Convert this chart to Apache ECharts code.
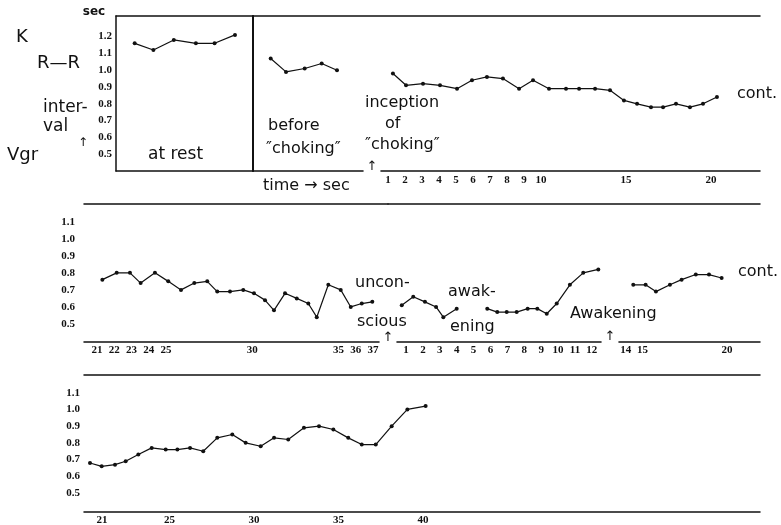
<!DOCTYPE html>
<html>
<head>
<meta charset="utf-8">
<script src="https://cdn.jsdelivr.net/npm/echarts@6/dist/echarts.min.js"></script>
<style>
html, body { margin: 0; padding: 0; background: #fff; }
#chart { width: 781px; height: 525px; }
</style>
</head>
<body>
<div id="chart"></div>
<script>
// R–R interval (sec) of each beat, plotted at the beat's time (sec)

// strip 1: at rest, before "choking", and from the inception of "choking"
const restTime = [1.1, 2.2, 3.4, 4.7, 5.8, 7.0];
const restRR = [1.16, 1.12, 1.18, 1.16, 1.16, 1.21];
const beforeTime = [-5.9, -5.0, -3.9, -2.9, -2.0];
const beforeRR = [1.07, 0.99, 1.01, 1.04, 1.00];
const chokeTime = [1.29, 2.06, 3.06, 4.06, 5.06, 5.94, 6.82, 7.76, 8.71, 9.53, 10.47, 11.47,
  12.24, 13.18, 14.06, 14.88, 15.65, 16.47, 17.18, 17.94, 18.76, 19.53, 20.35];
const chokeRR = [0.98, 0.91, 0.92, 0.91, 0.89, 0.94, 0.96, 0.95, 0.89, 0.94, 0.89, 0.89,
  0.89, 0.89, 0.88, 0.82, 0.80, 0.78, 0.78, 0.80, 0.78, 0.80, 0.84];

// strip 2: seconds 21–37, then unconscious / awakening
const contTime = [21.31, 22.14, 22.91, 23.53, 24.36, 25.13, 25.87, 26.64, 27.39, 27.97, 28.71, 29.48,
  30.10, 30.74, 31.26, 31.90, 32.58, 33.25, 33.74, 34.41, 35.13, 35.71, 36.35, 36.96];
const contRR = [0.76, 0.80, 0.80, 0.74, 0.80, 0.75, 0.70, 0.74, 0.75, 0.69, 0.69, 0.70,
  0.68, 0.64, 0.58, 0.68, 0.65, 0.62, 0.54, 0.73, 0.70, 0.60, 0.62, 0.63];
const unconTime = [0.75, 1.43, 2.12, 2.78, 3.21, 4.00];
const unconRR = [0.61, 0.66, 0.63, 0.60, 0.54, 0.59];
const wakingTime = [5.81, 6.40, 6.96, 7.55, 8.20, 8.77, 9.33, 9.92, 10.70, 11.49, 12.38];
const wakingRR = [0.59, 0.57, 0.57, 0.57, 0.59, 0.59, 0.56, 0.62, 0.73, 0.80, 0.82];
const awakeTime = [14.45, 15.18, 15.79, 16.62, 17.31, 18.15, 18.93, 19.68];
const awakeRR = [0.73, 0.73, 0.69, 0.73, 0.76, 0.79, 0.79, 0.77];

// strip 3: seconds 21–40 after awakening
const lateTime = [20.29, 20.98, 21.77, 22.40, 23.15, 23.94, 24.77, 25.46, 26.21, 26.99, 27.82, 28.71,
  29.50, 30.39, 31.18, 32.02, 32.95, 33.84, 34.69, 35.57, 36.37, 37.20, 38.14, 39.07, 40.15];
const lateRR = [0.68, 0.66, 0.67, 0.69, 0.73, 0.77, 0.76, 0.76, 0.77, 0.75, 0.83, 0.85,
  0.80, 0.78, 0.83, 0.82, 0.89, 0.90, 0.88, 0.83, 0.79, 0.79, 0.90, 1.00, 1.02];

// tick labels
const rrTicksTop = [0.5, 0.6, 0.7, 0.8, 0.9, 1.0, 1.1, 1.2];
const rrTicks = [0.5, 0.6, 0.7, 0.8, 0.9, 1.0, 1.1];
const secTicks1 = [1, 2, 3, 4, 5, 6, 7, 8, 9, 10, 15, 20];
const secTicks2a = [21, 22, 23, 24, 25, 30, 35, 36, 37];
const secTicks2b = [1, 2, 3, 4, 5, 6, 7, 8, 9, 10, 11, 12, 14, 15, 20];
const secTicks3 = [21, 25, 30, 35, 40];

const INK = '#111';
const tickFont = { fontFamily: 'Liberation Serif', fontWeight: 'bold', fontSize: 11, color: INK };

function lineSeries(times, values, xi, yi) {
  return {
    type: 'line', xAxisIndex: xi, yAxisIndex: yi,
    data: times.map((t, i) => [t, values[i]]),
    symbol: 'circle', symbolSize: 4, showSymbol: true,
    lineStyle: { color: INK, width: 1.2 }, itemStyle: { color: INK },
    silent: true, animation: false
  };
}

function rule(width) {
  return { show: true, onZero: false, lineStyle: { color: INK, width: width || 1.5 } };
}
function timeAxis(grid, min, max, ticks, margin) {
  return {
    type: 'value', gridIndex: grid, position: 'bottom', min: min, max: max,
    axisLine: rule(),
    axisTick: { show: false }, splitLine: { show: false },
    axisLabel: ticks ? Object.assign({ show: true, customValues: ticks, margin: margin,
      formatter: v => String(v) }, tickFont) : { show: false }
  };
}
function topRule(grid) {
  return {
    type: 'value', gridIndex: grid, position: 'top', min: 0, max: 1,
    axisLine: rule(),
    axisTick: { show: false }, splitLine: { show: false }, axisLabel: { show: false }
  };
}
function rrAxis(grid, min, max, ticks, margin, line, side, width) {
  const axisLine = rule(width);
  axisLine.show = !!line;
  return {
    type: 'value', gridIndex: grid, position: side || 'left', min: min, max: max,
    axisLine: axisLine,
    axisTick: { show: false }, splitLine: { show: false },
    axisLabel: ticks ? Object.assign({ show: true, customValues: ticks, margin: margin,
      formatter: v => v.toFixed(1) }, tickFont) : { show: false }
  };
}

const sans = 'DejaVu Sans';
function note(text, x, y, size, extra) {
  return {
    type: 'text', x: x, y: y, z: 50,
    style: Object.assign({ text: text, font: (size || 16) + 'px "' + sans + '"', fill: INK,
      align: 'left', verticalAlign: 'middle' }, extra || {})
  };
}
function arrow(x, y) {
  return {
    type: 'text', x: x, y: y, z: 60,
    style: { text: '↑', font: '13px "' + sans + '"', fill: INK, align: 'center',
      verticalAlign: 'middle', backgroundColor: '#fff', padding: [0, 3] }
  };
}

const option = {
  animation: false,
  backgroundColor: '#fff',
  grid: [
    { left: 116, top: 16, width: 137, height: 155, outerBoundsMode: 'none' },
    { left: 253, top: 16, width: 507, height: 155, outerBoundsMode: 'none' },
    { left: 84, top: 204, width: 304, height: 138, outerBoundsMode: 'none' },
    { left: 388, top: 204, width: 372, height: 138, outerBoundsMode: 'none' },
    { left: 84, top: 375, width: 676, height: 137, outerBoundsMode: 'none' }
  ],
  xAxis: [
    timeAxis(0, 0, 8.06, null),
    topRule(0),
    timeAxis(1, -6.941, 22.882, secTicks1, 4),
    topRule(1),
    timeAxis(2, 20.246, 37.87, secTicks2a, 3),
    topRule(2),
    timeAxis(3, -0.065, 21.95, secTicks2b, 3),
    topRule(3),
    timeAxis(4, 19.935, 59.935, secTicks3, 3),
    topRule(4)
  ],
  yAxis: [
    rrAxis(0, 0.4, 1.3226, rrTicksTop, 4, true),
    rrAxis(0, 0.4, 1.3226, null, 0, true, 'right', 2),
    rrAxis(1, 0.4, 1.3226, null, 0, false),
    rrAxis(2, 0.3944, 1.2038, rrTicks, 9, false),
    rrAxis(3, 0.3944, 1.2038, null, 0, false),
    rrAxis(4, 0.3869, 1.2056, rrTicks, 4, false)
  ],
  series: [
    lineSeries(restTime, restRR, 0, 0),
    lineSeries(beforeTime, beforeRR, 2, 2),
    lineSeries(chokeTime, chokeRR, 2, 2),
    lineSeries(contTime, contRR, 4, 3),
    lineSeries(unconTime, unconRR, 6, 4),
    lineSeries(wakingTime, wakingRR, 6, 4),
    lineSeries(awakeTime, awakeRR, 6, 4),
    lineSeries(lateTime, lateRR, 8, 5)
  ],
  graphic: [
    note('sec', 94, 12, 12, { align: 'center', font: 'bold 12px "' + sans + '"' }),
    note('K', 16, 37, 18),
    note('R—R', 37, 63, 18),
    note('inter-', 43, 108, 17),
    note('val', 43, 127, 17),
    note('↑', 83, 143, 12, { align: 'center' }),
    note('Vgr', 7, 155, 18),
    note('at rest', 148, 155, 17),
    note('before', 268, 126),
    note('″choking″', 266, 149),
    note('inception', 365, 103),
    note('of', 385, 124),
    note('″choking″', 365, 145),
    arrow(372, 167),
    note('cont.', 737, 94),
    note('time → sec', 263, 186),
    note('uncon-', 355, 283),
    note('scious', 357, 322),
    arrow(388, 338),
    note('awak-', 448, 292),
    note('ening', 450, 327),
    note('Awakening', 570, 314),
    arrow(610, 337),
    note('cont.', 738, 272)
  ]
};

const chart = echarts.init(document.getElementById('chart'), null, { renderer: 'canvas' });
chart.setOption(option);
</script>
</body>
</html>
